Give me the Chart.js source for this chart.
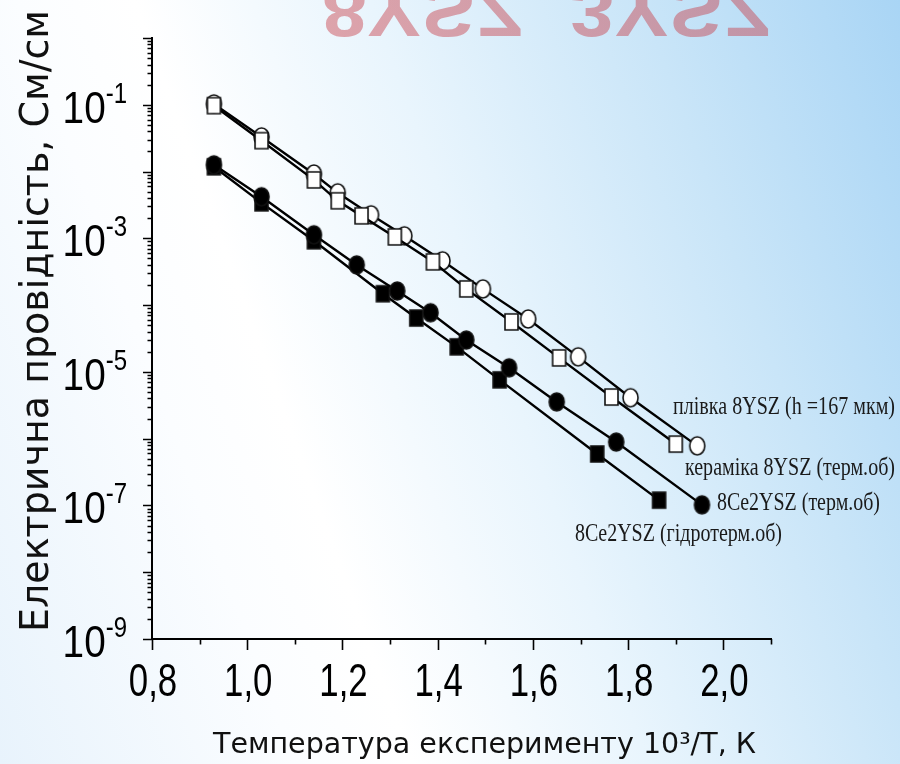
<!DOCTYPE html>
<html>
<head>
<meta charset="utf-8">
<script src="https://cdn.jsdelivr.net/npm/chart.js@4/dist/chart.umd.min.js"></script>
<style>
html,body{margin:0;padding:0;width:900px;height:764px;overflow:hidden;}
body{background:linear-gradient(70deg,#e8f3fc 0%,#fbfdff 25%,#ffffff 35%,#e9f5fd 55%,#c9e5f8 78%,#a9d5f5 100%);}
#wrap{position:relative;width:900px;height:764px;}
</style>
</head>
<body>
<div id="wrap"><canvas id="c" width="900" height="764"></canvas></div>
<script>
// ---- data ----
// плівка 8YSZ (h =167 мкм) : open squares
const xFilm = [0.93, 1.03, 1.14, 1.19, 1.24, 1.31, 1.39, 1.46, 1.555, 1.655, 1.765, 1.90];
const yFilm = [9.7e-2, 2.9e-2, 7.5e-3, 3.65e-3, 2.17e-3, 1.05e-3, 4.45e-4, 1.75e-4, 5.6e-5, 1.62e-5, 4.2e-6, 8.3e-7];
// кераміка 8YSZ (терм.об) : open circles
const xCeramic = [0.93, 1.03, 1.14, 1.19, 1.26, 1.33, 1.41, 1.495, 1.59, 1.695, 1.805, 1.945];
const yCeramic = [1.03e-1, 3.3e-2, 9.2e-3, 4.8e-3, 2.25e-3, 1.09e-3, 4.6e-4, 1.75e-4, 6.2e-5, 1.68e-5, 4.1e-6, 7.8e-7];
// 8Ce2YSZ (терм.об) : filled circles
const xCeThermal = [0.93, 1.03, 1.14, 1.23, 1.315, 1.385, 1.46, 1.55, 1.65, 1.775, 1.955];
const yCeThermal = [1.26e-2, 4.2e-3, 1.13e-3, 4.0e-4, 1.63e-4, 7.7e-5, 3.0e-5, 1.15e-5, 3.55e-6, 8.9e-7, 1.02e-7];
// 8Ce2YSZ (гідротерм.об) : filled squares
const xCeHydro = [0.93, 1.03, 1.14, 1.285, 1.355, 1.44, 1.53, 1.735, 1.865];
const yCeHydro = [1.18e-2, 3.4e-3, 9.2e-4, 1.48e-4, 6.4e-5, 2.37e-5, 7.6e-6, 5.9e-7, 1.2e-7];

const seriesNames = ['плівка 8YSZ (h =167 мкм)', 'кераміка 8YSZ (терм.об)', '8Ce2YSZ (терм.об)', '8Ce2YSZ (гідротерм.об)'];

// ---- axis ticks / labels ----
const xMajorTicks = [0.8, 1.0, 1.2, 1.4, 1.6, 1.8, 2.0];
const xTickLabels = ['0,8', '1,0', '1,2', '1,4', '1,6', '1,8', '2,0'];
const xMinorTicks = [0.9, 1.1, 1.3, 1.5, 1.7, 1.9, 2.1];
const yDecadeExps = [-9, -8, -7, -6, -5, -4, -3, -2, -1, 0];
const yLabelExps = [-9, -7, -5, -3, -1];
const xTitle = 'Температура експерименту 10³/Т, К';
const yTitle = 'Електрична провідність, См/см';
const bannerText = '8YSZ, 3YSZ';

function pts(xs, ys){ return xs.map((x,i)=>({x:x, y:ys[i]})); }

function marker(shape, filled, w, h){
  const c = document.createElement('canvas');
  c.width = w + 4; c.height = h + 4;
  const g = c.getContext('2d');
  g.lineWidth = 1.6;
  g.fillStyle = filled ? '#000' : '#fff';
  g.strokeStyle = '#111';
  g.beginPath();
  if (shape === 'rect') g.rect(2, 2, w, h);
  else g.ellipse((w+4)/2, (h+4)/2, w/2, h/2, 0, 0, Math.PI*2);
  g.fill(); g.stroke();
  return c;
}
const mOpenSq = marker('rect', false, 13, 16);
const mOpenCi = marker('ellipse', false, 15, 18);
const mFillSq = marker('rect', true, 13, 16);
const mFillCi = marker('ellipse', true, 15, 18);

function condText(ctx, text, x, y, font, sx, align){
  ctx.save();
  ctx.font = font;
  const w = ctx.measureText(text).width * sx;
  let left = x;
  if (align === 'center') left = x - w/2;
  else if (align === 'right') left = x - w;
  ctx.translate(left, y);
  ctx.scale(sx, 1);
  ctx.textAlign = 'left';
  ctx.textBaseline = 'alphabetic';
  ctx.fillText(text, 0, 0);
  ctx.restore();
  return w;
}
function fitText(ctx, text, left, y, font, width){
  ctx.save();
  ctx.font = font;
  const sx = width / ctx.measureText(text).width;
  ctx.translate(left, y);
  ctx.scale(sx, 1);
  ctx.textAlign = 'left';
  ctx.fillText(text, 0, 0);
  ctx.restore();
}

const decor = {
  id: 'decor',
  beforeDraw(chart){
    const ctx = chart.ctx;
    ctx.save();
    const grd = ctx.createLinearGradient(0, 0, 0, 42);
    grd.addColorStop(0, 'rgba(200,60,70,0.45)');
    grd.addColorStop(0.5, 'rgba(210,100,110,0.25)');
    grd.addColorStop(1, 'rgba(220,140,150,0)');
    ctx.fillStyle = grd;
    ctx.font = 'bold 72px "Liberation Sans", Arial, sans-serif';
    const w = ctx.measureText(bannerText).width;
    const sx = 450 / w;
    ctx.translate(322, -14);
    ctx.scale(sx, -1);
    ctx.fillText(bannerText, 0, 0);
    ctx.restore();
  },
  afterDraw(chart){
    const ctx = chart.ctx;
    const xs = chart.scales.x, ys = chart.scales.y;
    const ca = chart.chartArea;
    ctx.save();
    ctx.strokeStyle = '#000';
    ctx.fillStyle = '#000';
    ctx.lineWidth = 1.6;
    // y ticks
    ctx.beginPath();
    yDecadeExps.forEach(e => {
      const v = Math.pow(10, e);
      const py = Math.round(ys.getPixelForValue(v)) + 0.5;
      ctx.moveTo(ca.left, py); ctx.lineTo(ca.left - 9, py);
      if (e < 0) {
        for (let m = 2; m <= 9; m++) {
          const p2 = Math.round(ys.getPixelForValue(m * v)) + 0.5;
          ctx.moveTo(ca.left, p2); ctx.lineTo(ca.left - 4.5, p2);
        }
      }
    });
    // x ticks
    xMajorTicks.forEach(v => {
      const px = Math.round(xs.getPixelForValue(v)) + 0.5;
      ctx.moveTo(px, ca.bottom); ctx.lineTo(px, ca.bottom + 11);
    });
    xMinorTicks.forEach(v => {
      const px = Math.round(xs.getPixelForValue(v)) + 0.5;
      ctx.moveTo(px, ca.bottom); ctx.lineTo(px, ca.bottom + 5.5);
    });
    ctx.stroke();

    // x tick labels
    ctx.fillStyle = '#000';
    xMajorTicks.forEach((v, i) => {
      const px = xs.getPixelForValue(v);
      condText(ctx, xTickLabels[i], px + 1, ca.bottom + 57, '47px "Liberation Sans", Arial, sans-serif', 0.74, 'center');
    });
    // y tick labels 10^e
    yLabelExps.forEach(e => {
      const py = ys.getPixelForValue(Math.pow(10, e));
      const supF = '30px "Liberation Sans", Arial, sans-serif';
      const mainF = '45px "Liberation Sans", Arial, sans-serif';
      ctx.font = supF; const wSup = ctx.measureText('-' + (-e)).width * 0.8;
      ctx.font = mainF; const wMain = ctx.measureText('10').width * 0.86;
      const right = ca.left - 25;
      condText(ctx, '10', right - wSup - wMain, py + 18, mainF, 0.86, 'left');
      condText(ctx, '-' + (-e), right - wSup, py - 2, supF, 0.8, 'left');
    });

    // axis titles
    ctx.fillStyle = '#111';
    fitText(ctx, xTitle, 213, 753, '28px "DejaVu Sans", Verdana, sans-serif', 543);
    ctx.save();
    ctx.translate(48, 632);
    ctx.rotate(-Math.PI/2);
    fitText(ctx, yTitle, 0, 0, '39px "DejaVu Sans", Verdana, sans-serif', 622);
    ctx.restore();

    // series labels
    ctx.fillStyle = '#1a1a1a';
    const sf = '25px "Liberation Serif", "Times New Roman", serif';
    fitText(ctx, seriesNames[0], 673, 414, sf, 222);
    fitText(ctx, seriesNames[1], 685, 475, sf, 210);
    fitText(ctx, seriesNames[2], 717, 510, sf, 163);
    fitText(ctx, seriesNames[3], 575, 541, sf, 207);
    ctx.restore();
  }
};

function ds(label, xs, ys, img, order){
  return {
    label: label,
    data: pts(xs, ys),
    showLine: true,
    borderColor: '#000',
    borderWidth: 2.4,
    backgroundColor: '#000',
    pointStyle: img,
    pointRadius: 8,
    pointHoverRadius: 8,
    tension: 0,
    order: order,
    clip: false
  };
}

new Chart(document.getElementById('c'), {
  type: 'scatter',
  data: {
    datasets: [
      ds(seriesNames[0], xFilm, yFilm, mOpenSq, 1),
      ds(seriesNames[1], xCeramic, yCeramic, mOpenCi, 2),
      ds(seriesNames[2], xCeThermal, yCeThermal, mFillCi, 3),
      ds(seriesNames[3], xCeHydro, yCeHydro, mFillSq, 4)
    ]
  },
  options: {
    responsive: false,
    animation: false,
    devicePixelRatio: 1,
    layout: { padding: { top: 38, right: 129, left: 0, bottom: 0 } },
    plugins: { legend: { display: false }, tooltip: { enabled: false } },
    events: [],
    scales: {
      x: {
        type: 'linear', min: 0.8, max: 2.1,
        grid: { display: false },
        ticks: { display: false },
        border: { display: true, color: '#000', width: 2 },
        afterFit: s => { s.height = 125; }
      },
      y: {
        type: 'logarithmic', min: 1e-9, max: 1,
        grid: { display: false },
        ticks: { display: false },
        border: { display: true, color: '#000', width: 2 },
        afterFit: s => { s.width = 152; }
      }
    }
  },
  plugins: [decor]
});
</script>
</body>
</html>
